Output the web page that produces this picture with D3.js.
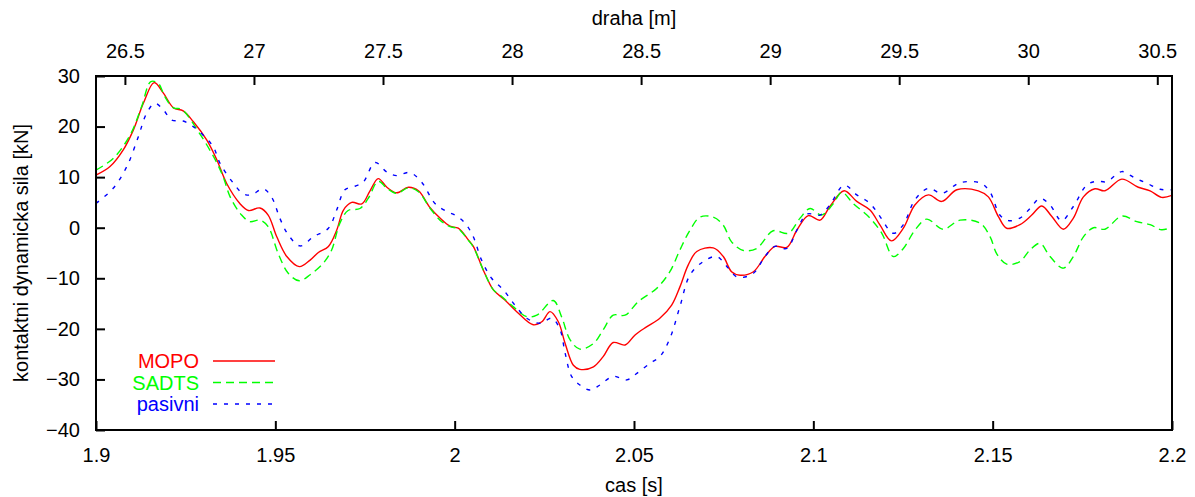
<!DOCTYPE html>
<html><head><meta charset="utf-8">
<script src="https://cdn.jsdelivr.net/npm/d3@7"></script>
<style>body{margin:0;background:#fff}svg{display:block}text{font-family:"Liberation Sans",Arial,sans-serif;font-size:20px}</style>
</head><body><svg id="c" width="1195" height="497"></svg>
<script>
const xTicks=[1.9,1.95,2.0,2.05,2.1,2.15,2.2];
const xTickLabels=["1.9","1.95","2","2.05","2.1","2.15","2.2"];
const topTicks=[26.5,27,27.5,28,28.5,29,29.5,30,30.5];
const topTickLabels=["26.5","27","27.5","28","28.5","29","29.5","30","30.5"];
const yTicks=[30,20,10,0,-10,-20,-30,-40];
const seriesNames=["MOPO","SADTS","pasivni"];
const seriesColors=["#ff0000","#00ff00","#0000ff"];

const mopoT=[1.9,1.9039,1.9076,1.9104,1.9132,1.9162,1.9188,1.9216,1.9243,1.9271,1.9309,1.9337,1.9364,1.9401,1.9425,1.9457,1.948,1.9504,1.9532,1.9567,1.9597,1.962,1.9648,1.9671,1.969,1.9713,1.9741,1.9764,1.9787,1.9811,1.9838,1.9871,1.9899,1.9931,1.9959,1.9987,2.001,2.0038,2.0052,2.008,2.0108,2.014,2.0173,2.0219,2.0243,2.0266,2.0289,2.0308,2.0331,2.0349,2.0387,2.0414,2.0442,2.0475,2.0503,2.0535,2.0572,2.0605,2.0628,2.0651,2.0675,2.0721,2.0749,2.0772,2.0796,2.0833,2.0865,2.0893,2.0926,2.0954,2.0986,2.1019,2.1046,2.1086,2.1121,2.1158,2.1186,2.1218,2.1251,2.1283,2.1321,2.1358,2.14,2.146,2.1488,2.1516,2.1539,2.1576,2.1609,2.1637,2.1665,2.1697,2.1725,2.1753,2.1785,2.1813,2.186,2.1906,2.1939,2.1971,2.2];
const mopoV=[10.4,12.1,15.4,19.3,24.6,28.7,26.6,23.7,23.1,21.0,17.3,13.4,8.8,4.8,3.4,3.9,2.5,-1.8,-5.7,-7.7,-6.4,-4.9,-3.7,-0.5,3.5,5.0,4.7,7.3,9.7,8.0,6.9,8.0,7.3,4.0,1.9,0.3,-0.1,-2.4,-3.7,-8.4,-12.3,-14.3,-16.6,-19.2,-18.6,-16.6,-18.6,-22.9,-27.2,-28.0,-27.5,-25.5,-22.7,-23.2,-21.2,-19.6,-17.9,-15.3,-11.7,-7.4,-4.7,-4.0,-5.7,-8.7,-9.4,-8.7,-5.7,-3.7,-3.9,-0.5,2.4,1.5,4.2,7.3,5.2,3.5,0.5,-2.6,-0.1,4.5,6.5,5.2,7.5,7.3,6.1,2.2,-0.1,0.6,2.5,4.3,2.2,-0.3,1.9,6.1,7.7,7.3,9.6,8.0,7.3,6.0,6.4];

const sadtsT=[1.9,1.9048,1.9095,1.9127,1.9153,1.9174,1.9192,1.9216,1.9239,1.929,1.9332,1.9355,1.9374,1.9406,1.9429,1.9457,1.948,1.9508,1.9536,1.9567,1.9597,1.9634,1.9657,1.968,1.9703,1.9736,1.9759,1.9787,1.9811,1.9838,1.9871,1.9899,1.9931,1.9959,1.9987,2.001,2.0038,2.0052,2.008,2.0108,2.0126,2.0163,2.0201,2.0229,2.0275,2.0298,2.0322,2.0349,2.0387,2.0414,2.0442,2.0475,2.0512,2.0563,2.06,2.0628,2.0656,2.0684,2.0721,2.0749,2.0772,2.0805,2.0842,2.0888,2.093,2.0963,2.0991,2.1023,2.1056,2.1079,2.1111,2.1158,2.1191,2.1223,2.1251,2.1283,2.1316,2.1362,2.1409,2.1465,2.1493,2.1511,2.1539,2.1576,2.1604,2.1632,2.166,2.1697,2.1725,2.1753,2.1781,2.1813,2.186,2.1902,2.1939,2.1971,2.2];
const sadtsV=[11.4,13.7,18.3,23.9,28.9,28.5,25.9,23.7,23.4,18.5,13.5,10.0,6.1,2.5,1.2,1.5,0.2,-5.1,-9.0,-10.5,-9.3,-7.0,-4.4,0.9,3.4,3.8,5.8,9.2,7.8,6.8,7.9,7.1,3.9,1.5,0.2,-0.2,-2.5,-3.8,-8.4,-12.3,-13.3,-15.6,-17.6,-17.3,-14.4,-17.6,-22.2,-24.0,-22.9,-20.2,-17.3,-17.3,-14.6,-12.0,-8.7,-4.4,-0.5,2.1,2.1,0.5,-2.8,-4.5,-4.1,-0.6,-1.1,1.9,3.8,2.5,4.8,7.0,4.8,1.9,-1.1,-5.7,-4.1,-0.5,1.7,-0.3,1.5,0.9,-1.8,-5.1,-7.2,-6.7,-4.4,-3.1,-5.7,-8.0,-5.7,-1.8,0.0,-0.3,2.3,1.2,0.6,-0.4,0.1];

const pasT=[1.9,1.9048,1.9086,1.9118,1.9141,1.9164,1.9188,1.9211,1.9243,1.9271,1.9299,1.9327,1.9346,1.9383,1.9411,1.9434,1.9466,1.949,1.9513,1.9536,1.9569,1.9606,1.9648,1.9671,1.9694,1.9722,1.9745,1.9778,1.9811,1.9838,1.9875,1.9908,1.9945,1.9978,2.0001,2.0029,2.0052,2.0075,2.0103,2.0136,2.0168,2.0201,2.0238,2.0271,2.0294,2.0308,2.0326,2.0349,2.0377,2.0405,2.0442,2.048,2.0508,2.0545,2.0572,2.06,2.0628,2.0656,2.0693,2.0731,2.0758,2.079,2.0833,2.0865,2.0893,2.0926,2.0954,2.0982,2.1019,2.1046,2.1086,2.1121,2.1158,2.1186,2.1223,2.1251,2.1283,2.1321,2.1358,2.1409,2.1467,2.1493,2.152,2.1544,2.1576,2.1604,2.1632,2.166,2.1692,2.1725,2.1762,2.179,2.1818,2.186,2.1897,2.193,2.1967,2.2];
const pasV=[4.8,7.8,12.1,18.0,22.6,24.6,23.3,21.3,21.1,20.0,18.3,16.0,12.7,8.8,6.7,6.5,7.7,6.0,1.8,-1.4,-3.6,-1.8,-0.1,3.5,7.5,8.2,9.0,12.9,11.0,10.3,10.9,9.0,4.8,3.2,2.5,0.9,-1.8,-6.4,-10.0,-12.3,-15.3,-17.9,-18.9,-17.9,-20.2,-24.8,-29.4,-31.1,-32.1,-31.1,-29.4,-30.1,-28.8,-26.8,-25.5,-21.9,-15.6,-9.35,-6.7,-5.7,-7.6,-9.8,-9.0,-5.7,-3.7,-4.1,-0.5,2.7,2.5,4.5,8.4,6.5,4.8,2.2,-1.1,0.6,5.5,7.8,6.8,8.9,8.8,7.0,2.5,1.4,1.9,3.8,5.8,4.5,1.4,4.2,8.4,9.2,9.1,11.1,9.8,8.8,7.6,7.5];

const svg=d3.select("#c");
const L=96,R=1172,T=76,B=430;
const x=d3.scaleLinear().domain([1.9,2.2]).range([L,R]);
const x2=d3.scaleLinear().domain([26.388,30.557]).range([L,R]);
const y=d3.scaleLinear().domain([-40,30]).range([B,T]);

const g=svg.append("g");
// bottom axis
const ax=g.append("g").attr("transform",`translate(0,${B})`)
 .call(d3.axisBottom(x).tickValues(xTicks).tickFormat((d,i)=>xTickLabels[i]).tickSizeInner(-9).tickSizeOuter(0).tickPadding(18));
const at=g.append("g").attr("transform",`translate(0,${T})`)
 .call(d3.axisTop(x2).tickValues(topTicks).tickFormat((d,i)=>topTickLabels[i]).tickSizeInner(-9).tickSizeOuter(0).tickPadding(18));
const ay=g.append("g").attr("transform",`translate(${L},0)`)
 .call(d3.axisLeft(y).tickValues(yTicks).tickFormat(d3.format("d")).tickSizeInner(-9).tickSizeOuter(0).tickPadding(16));
[ax,at,ay].forEach(a=>{a.select(".domain").remove();a.selectAll("line").attr("stroke","#000").attr("stroke-width",2);
 a.selectAll("text").attr("fill","#000").style("font-size","20px").style("font-family","'Liberation Sans',Arial,sans-serif");});

const line=d3.line().x(d=>x(d[0])).y(d=>y(d[1])).curve(d3.curveCatmullRom.alpha(0.5));
const series=[[mopoT,mopoV,null],[sadtsT,sadtsV,"8,5"],[pasT,pasV,"4,7"]];
const clip=svg.append("clipPath").attr("id","cp").append("rect").attr("x",L).attr("y",T).attr("width",R-L).attr("height",B-T);
series.forEach((s,i)=>{
 const pts=s[0].map((t,j)=>[t,s[1][j]]);
 g.append("path").attr("d",line(pts)).attr("fill","none").attr("stroke",seriesColors[i]).attr("stroke-width",1.4)
  .attr("stroke-dasharray",s[2]).attr("clip-path","url(#cp)");
});
// legend
seriesNames.forEach((n,i)=>{
 const yy=361+i*21.5;
 g.append("text").attr("x",199).attr("y",yy+7).attr("text-anchor","end").attr("fill",seriesColors[i]).text(n);
 g.append("line").attr("x1",213).attr("x2",275).attr("y1",yy).attr("y2",yy).attr("stroke",seriesColors[i]).attr("stroke-width",1.4).attr("stroke-dasharray",series[i][2]);
});
// frame
g.append("rect").attr("x",L).attr("y",T).attr("width",R-L).attr("height",B-T).attr("fill","none").attr("stroke","#000").attr("stroke-width",2);
// titles
g.append("text").attr("x",(L+R)/2).attr("y",25).attr("text-anchor","middle").text("draha [m]");
g.append("text").attr("x",(L+R)/2).attr("y",492).attr("text-anchor","middle").text("cas [s]");
g.append("text").attr("transform",`translate(28,${(T+B)/2}) rotate(-90)`).attr("text-anchor","middle").text("kontaktni dynamicka sila [kN]");
</script></body></html>
